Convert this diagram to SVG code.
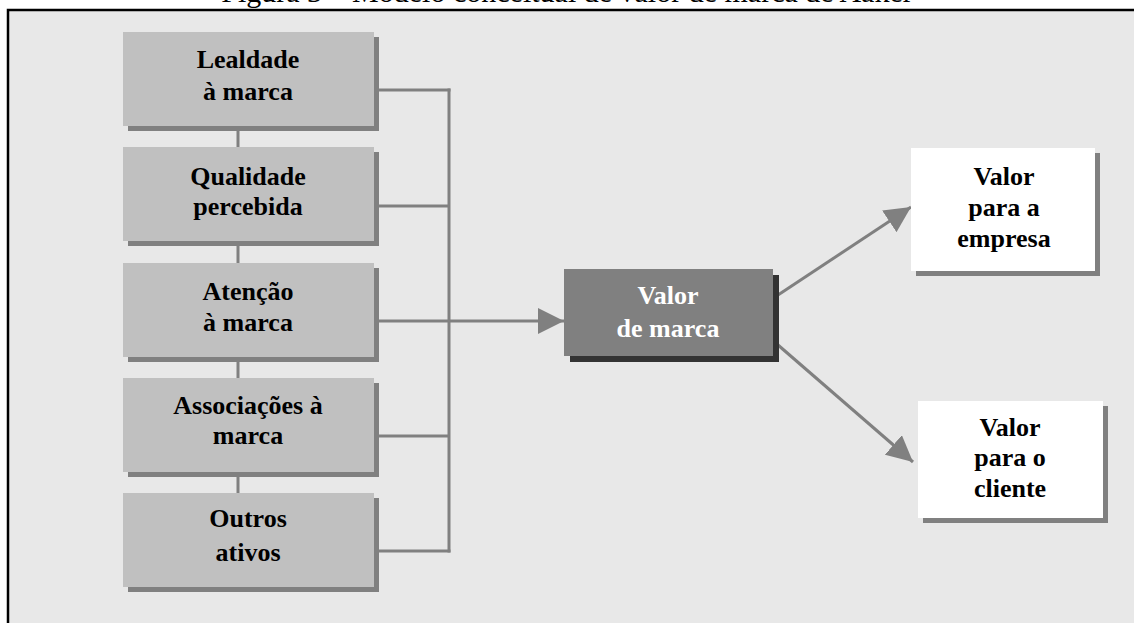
<svg xmlns="http://www.w3.org/2000/svg" width="1134" height="623" viewBox="0 0 1134 623">
<style>
  .t { font-family: "Liberation Serif", "Times New Roman", serif; font-weight: bold; font-size: 26px; text-anchor: middle; fill: #000; }
  .w { fill: #fff; }
  .title { font-family: "Liberation Serif", "Times New Roman", serif; font-size: 30px; text-anchor: middle; fill: #000; }
  .box { fill: #c0c0c0; }
  .shadow { fill: #808080; }
  .dshadow { fill: #333333; }
  .white { fill: #ffffff; }
  .line { stroke: #808080; stroke-width: 3; fill: none; }
</style>
<defs>
  <marker id="arrow" markerUnits="userSpaceOnUse" markerWidth="27" markerHeight="26" refX="26" refY="13" orient="auto">
    <path d="M0,0 L26,13 L0,26 z" fill="#808080"/>
  </marker>
</defs>
<rect x="0" y="0" width="1134" height="623" fill="#ffffff"/>
<text class="title" x="567" y="1.5">Figura 3 – Modelo conceitual de valor de marca de Aaker</text>
<rect x="8" y="10" width="1200" height="700" fill="#e8e8e8" stroke="#000" stroke-width="2.5"/>

<g id="connectors">
  <line class="line" x1="238" y1="131" x2="238" y2="147"/>
  <line class="line" x1="238" y1="246" x2="238" y2="263"/>
  <line class="line" x1="238" y1="362" x2="238" y2="378"/>
  <line class="line" x1="238" y1="477" x2="238" y2="493"/>
  <line class="line" x1="379" y1="90" x2="450.5" y2="90"/>
  <line class="line" x1="379" y1="206" x2="449" y2="206"/>
  <line class="line" x1="379" y1="436" x2="449" y2="436"/>
  <line class="line" x1="379" y1="551" x2="450.5" y2="551"/>
  <line class="line" x1="449" y1="88.5" x2="449" y2="552.5"/>
  <line class="line" x1="379" y1="321" x2="564" y2="321" marker-end="url(#arrow)"/>
  <line class="line" x1="778" y1="295" x2="911" y2="207" marker-end="url(#arrow)"/>
  <line class="line" x1="778" y1="345" x2="913" y2="462" marker-end="url(#arrow)"/>
</g>

<g id="lealdade">
  <rect class="shadow" x="128" y="37" width="251" height="94"/>
  <rect class="box" x="123" y="32" width="251" height="94"/>
  <text class="t" x="248" y="68">Lealdade</text>
  <text class="t" x="248" y="100">à marca</text>
</g>
<g id="qualidade">
  <rect class="shadow" x="128" y="152" width="251" height="94"/>
  <rect class="box" x="123" y="147" width="251" height="94"/>
  <text class="t" x="248" y="185">Qualidade</text>
  <text class="t" x="248" y="215">percebida</text>
</g>
<g id="atencao">
  <rect class="shadow" x="128" y="268" width="251" height="94"/>
  <rect class="box" x="123" y="263" width="251" height="94"/>
  <text class="t" x="248" y="300">Atenção</text>
  <text class="t" x="248" y="331">à marca</text>
</g>
<g id="associacoes">
  <rect class="shadow" x="128" y="383" width="251" height="94"/>
  <rect class="box" x="123" y="378" width="251" height="94"/>
  <text class="t" x="248" y="414">Associações à</text>
  <text class="t" x="248" y="444">marca</text>
</g>
<g id="outros">
  <rect class="shadow" x="128" y="498" width="251" height="94"/>
  <rect class="box" x="123" y="493" width="251" height="94"/>
  <text class="t" x="248" y="527">Outros</text>
  <text class="t" x="248" y="561">ativos</text>
</g>

<g id="valor-de-marca">
  <rect class="dshadow" x="570" y="275" width="209" height="87"/>
  <rect class="shadow" x="564" y="269" width="209" height="87"/>
  <text class="t w" x="668" y="304">Valor</text>
  <text class="t w" x="668" y="337">de marca</text>
</g>

<g id="valor-empresa">
  <rect class="shadow" x="916" y="153" width="184" height="123"/>
  <rect class="white" x="911" y="148" width="184" height="123"/>
  <text class="t" x="1004" y="185">Valor</text>
  <text class="t" x="1004" y="216">para a</text>
  <text class="t" x="1004" y="247">empresa</text>
</g>

<g id="valor-cliente">
  <rect class="shadow" x="923" y="406" width="185" height="117"/>
  <rect class="white" x="918" y="401" width="185" height="117"/>
  <text class="t" x="1010" y="436">Valor</text>
  <text class="t" x="1010" y="466">para o</text>
  <text class="t" x="1010" y="497">cliente</text>
</g>
</svg>
